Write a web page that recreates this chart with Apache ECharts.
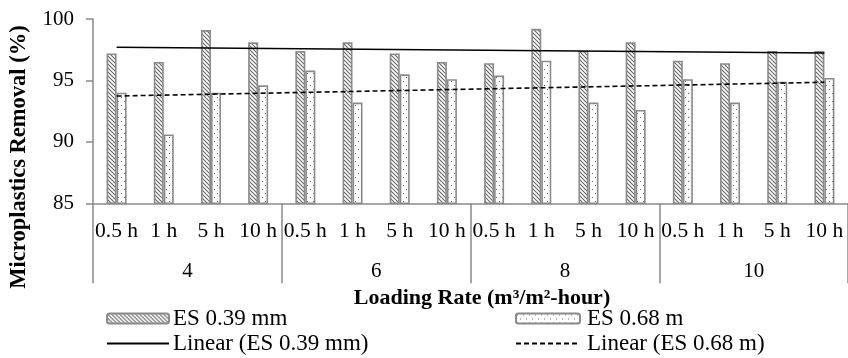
<!DOCTYPE html>
<html>
<head>
<meta charset="utf-8">
<script src="https://cdn.jsdelivr.net/npm/echarts@6/dist/echarts.min.js"></script>
<style>html,body{margin:0;padding:0;background:#fff}#c{width:848px;height:358px}</style>
</head>
<body>
<div id="c"></div>
<script>
// ---- data ----
var hourLabels = ['0.5 h','1 h','5 h','10 h','0.5 h','1 h','5 h','10 h','0.5 h','1 h','5 h','10 h','0.5 h','1 h','5 h','10 h'];
var loadingRates = ['4','6','8','10'];
var es039 = [97.2, 96.5, 99.1, 98.1, 97.4, 98.1, 97.2, 96.5, 96.4, 99.2, 97.4, 98.1, 96.6, 96.4, 97.4, 97.4];
var es068 = [94.0, 90.6, 94.0, 94.6, 95.8, 93.2, 95.5, 95.1, 95.4, 96.6, 93.2, 92.6, 95.1, 93.2, 94.9, 95.2];
// linear trend end points (first and last category)
var trend039 = [97.70, 97.23];
var trend068 = [93.73, 94.85];
var yTicks = [85, 90, 95, 100];

var FONT = '"Liberation Serif", "Times New Roman", serif';

function hatchPattern() {
  var c = document.createElement('canvas');
  c.width = 4; c.height = 4;
  var g = c.getContext('2d');
  g.fillStyle = '#fff'; g.fillRect(0, 0, 4, 4);
  g.strokeStyle = '#666'; g.lineWidth = 1.1;
  g.beginPath();
  g.moveTo(-1, -1); g.lineTo(5, 5);
  g.moveTo(-1, 3); g.lineTo(1, 5);
  g.moveTo(3, -1); g.lineTo(5, 1);
  g.stroke();
  return c;
}
function dotPattern() {
  var c = document.createElement('canvas');
  c.width = 6; c.height = 8;
  var g = c.getContext('2d');
  g.fillStyle = '#fff'; g.fillRect(0, 0, 6, 8);
  g.fillStyle = '#666';
  g.fillRect(1, 1, 1, 1);
  g.fillRect(4, 5, 1, 1);
  return c;
}

var chart = echarts.init(document.getElementById('c'), null, {renderer: 'canvas'});
var gray = '#8a8a8a';

function trendData(arr) { return [[0, arr[0]], [hourLabels.length - 1, arr[1]]]; }

var legendText = {fontFamily: FONT, fontSize: 23, color: '#000'};

var option = {
  animation: false,
  backgroundColor: '#fff',
  grid: {left: 93, top: 19, width: 761, height: 184.3, containLabel: false},
  xAxis: [{
    type: 'category', data: hourLabels, position: 'bottom',
    axisLine: {lineStyle: {color: gray, width: 1.5}},
    axisTick: {show: false},
    axisLabel: {interval: 0, color: '#000', fontFamily: FONT, fontSize: 21.5, margin: 17}
  }, {
    type: 'category', data: loadingRates, position: 'bottom',
    axisLine: {show: false},
    axisTick: {show: true, length: 80, interval: 0, lineStyle: {color: gray, width: 1.5}},
    axisLabel: {interval: 0, color: '#000', fontFamily: FONT, fontSize: 21, margin: 58}
  }],
  yAxis: {
    type: 'value', min: 85, max: 100, interval: 5,
    axisLine: {show: true, lineStyle: {color: gray, width: 1.5}},
    axisTick: {show: true, length: 7, lineStyle: {color: gray, width: 1.5}},
    splitLine: {show: false},
    axisLabel: {color: '#000', fontFamily: FONT, fontSize: 21, margin: 19}
  },
  legend: [
    {data: ['ES 0.39 mm'], left: 106, top: 307, padding: 0, itemWidth: 62, itemHeight: 10, itemGap: 0,
     textStyle: Object.assign({padding: [0,0,0,-1]}, legendText)},
    {data: ['ES 0.68 m'], left: 515, top: 307, padding: 0, itemWidth: 64, itemHeight: 10, itemGap: 0,
     textStyle: Object.assign({padding: [0,0,0,2]}, legendText)},
    {data: ['Linear (ES 0.39 mm)'], left: 106, top: 332, padding: 0, itemWidth: 62, itemHeight: 10, itemGap: 0,
     itemStyle: {color: 'transparent', borderWidth: 0, opacity: 0},
     textStyle: Object.assign({padding: [0,0,0,-1]}, legendText)},
    {data: ['Linear (ES 0.68 m)'], left: 515, top: 332, padding: 0, itemWidth: 64, itemHeight: 10, itemGap: 0,
     itemStyle: {color: 'transparent', borderWidth: 0, opacity: 0},
     textStyle: Object.assign({padding: [0,0,0,2]}, legendText)}
  ],
  graphic: [
    {type: 'text', x: 482, y: 298,
     style: {text: 'Loading Rate (m³/m²-hour)', font: 'bold 22px ' + FONT, fill: '#000', align: 'center', verticalAlign: 'middle'}},
    {type: 'text', x: 19, y: 157, rotation: Math.PI / 2,
     style: {text: 'Microplastics Removal (%)', font: 'bold 22.5px ' + FONT, fill: '#000', align: 'center', verticalAlign: 'middle'}}
  ],
  series: [
    {name: 'ES 0.39 mm', type: 'bar', data: es039, barWidth: 10, barGap: '0%',
     itemStyle: {color: {image: hatchPattern(), repeat: 'repeat'}, borderColor: gray, borderWidth: 1.6}},
    {name: 'ES 0.68 m', type: 'bar', data: es068, barWidth: 10, barGap: '0%',
     itemStyle: {color: {image: dotPattern(), repeat: 'repeat'}, borderColor: gray, borderWidth: 1.6}},
    {name: 'Linear (ES 0.39 mm)', type: 'line', data: trendData(trend039), symbol: 'none', showSymbol: false,
     lineStyle: {color: '#000', width: 1.6, type: 'solid'}, itemStyle: {color: '#000'}, z: 5},
    {name: 'Linear (ES 0.68 m)', type: 'line', data: trendData(trend068), symbol: 'none', showSymbol: false,
     lineStyle: {color: '#000', width: 1.6, type: [5, 3]}, itemStyle: {color: '#000'}, z: 5}
  ]
};
chart.setOption(option);
</script>
</body>
</html>
